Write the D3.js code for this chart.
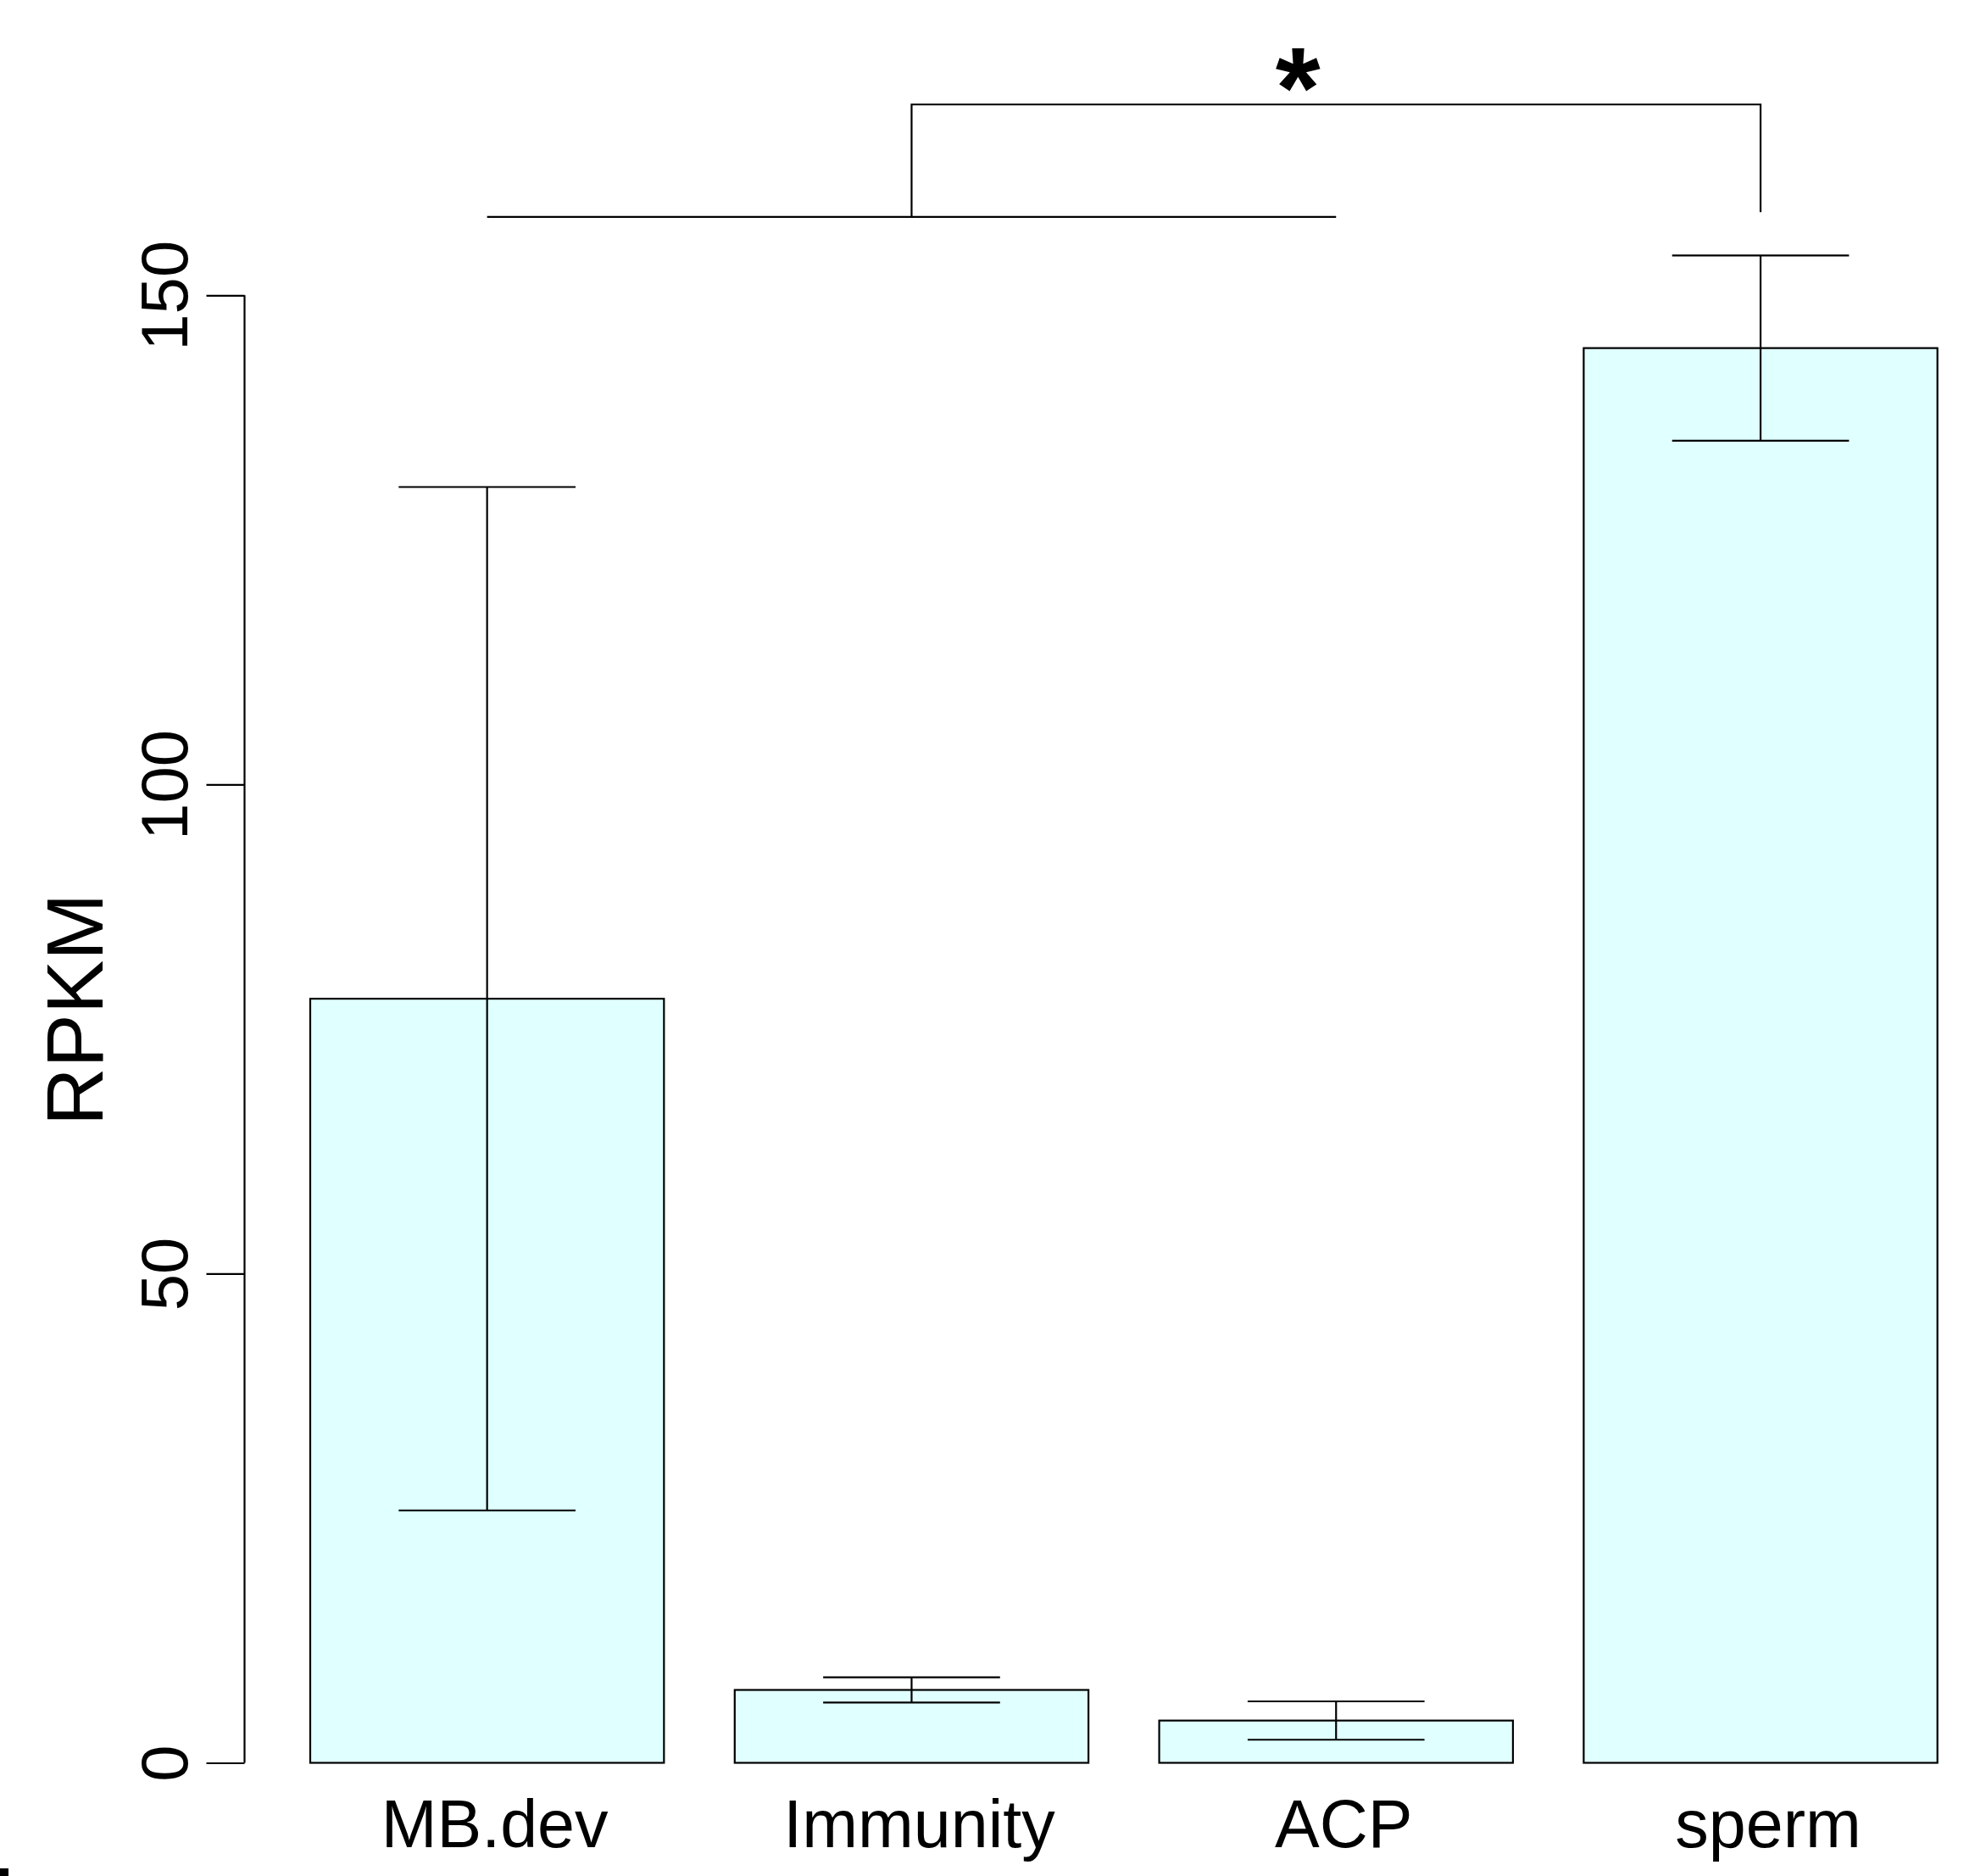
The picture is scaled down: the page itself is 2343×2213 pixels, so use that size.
<!DOCTYPE html>
<html>
<head>
<meta charset="utf-8">
<script src="https://cdn.jsdelivr.net/npm/d3@7"></script>
<style>
  html, body { margin: 0; padding: 0; background: #ffffff; }
  svg { display: block; }
  text { font-family: "Liberation Sans", Arial, Helvetica, sans-serif; fill: #000; }
</style>
</head>
<body>
<svg id="chart" width="2343" height="2213"></svg>
<script>
// Gene-set expression (mean RPKM with standard error)
const categories = ["MB.dev", "Immunity", "ACP", "sperm"];
const meanRPKM   = [78.1, 7.45, 4.32, 144.6];
const seRPKM     = [52.3, 1.29, 1.96, 9.47];
const yTicks     = [0, 50, 100, 150];
const yLabel     = "RPKM";

// Significance bracket: group (MB.dev..ACP) vs sperm
const groupFrom  = "MB.dev";
const groupTo    = "ACP";
const compareTo  = "sperm";
const bracketLow = 158;     // level of the group bar
const bracketHigh = 169.5;  // level of the connecting bar
const bracketDrop = 158.5;  // where the right leg ends
const sigLabel   = "*";
const sigPos     = 1.91;    // position in bar-index units
const sigLevel   = 166.8;

const svg = d3.select("#chart");

const x = d3.scaleBand()
  .domain(categories)
  .range([366, 2285.7])
  .paddingInner(1 / 6)
  .paddingOuter(0);

const y = d3.scaleLinear()
  .domain([0, 150])
  .range([2079.5, 348.3]);

const cx = c => x(c) + x.bandwidth() / 2;
// index units -> pixel centre
const xi = d3.scaleLinear().domain([0, 1]).range([cx(categories[0]), cx(categories[1])]);

const rows = categories.map((c, i) => ({ c, m: meanRPKM[i], se: seRPKM[i] }));

// Bars
svg.append("g").selectAll("rect")
  .data(rows)
  .join("rect")
  .attr("x", d => x(d.c))
  .attr("y", d => y(d.m))
  .attr("width", x.bandwidth())
  .attr("height", d => y(0) - y(d.m))
  .attr("fill", "#e0ffff")
  .attr("stroke", "#000")
  .attr("stroke-width", 2.2);

// Error bars
const eb = svg.append("g").attr("stroke", "#000").attr("stroke-width", 2.2);
const capHalf = x.bandwidth() / 4;
rows.forEach(d => {
  const c = cx(d.c);
  eb.append("line").attr("x1", c).attr("x2", c)
    .attr("y1", y(d.m + d.se)).attr("y2", y(d.m - d.se));
  [d.m + d.se, d.m - d.se].forEach(v => {
    eb.append("line").attr("x1", c - capHalf).attr("x2", c + capHalf)
      .attr("y1", y(v)).attr("y2", y(v));
  });
});

// Y axis (R style: line spans ticks only, labels rotated)
const axis = svg.append("g")
  .attr("transform", `translate(${288.5},0)`)
  .call(d3.axisLeft(y).tickValues(yTicks).tickSize(45).tickPadding(0).tickSizeOuter(0));
axis.select(".domain").remove();
axis.append("line")
  .attr("x1", 0).attr("x2", 0)
  .attr("y1", y(yTicks[0])).attr("y2", y(yTicks[yTicks.length - 1]))
  .attr("stroke", "#000").attr("stroke-width", 2.2);
axis.selectAll(".tick line").attr("stroke-width", 2.2);
axis.selectAll(".tick text")
  .attr("x", null).attr("dy", null)
  .attr("transform", "translate(-68,0) rotate(-90)")
  .attr("text-anchor", "middle")
  .style("font-size", "78px")
  .style("font-family", "\"Liberation Sans\", Arial, Helvetica, sans-serif");

// Y axis title
svg.append("text")
  .attr("transform", `translate(121,${y(77)}) rotate(-90)`)
  .attr("text-anchor", "middle")
  .style("font-size", "95px")
  .text(yLabel);

// Category labels
svg.append("g").selectAll("text")
  .data(categories)
  .join("text")
  .attr("x", d => cx(d))
  .attr("dx", 9)
  .attr("y", 2179)
  .attr("text-anchor", "middle")
  .style("font-size", "79px")
  .text(d => d);

// Significance bracket
const gL = cx(groupFrom), gR = cx(groupTo), gM = (gL + gR) / 2, sC = cx(compareTo);
const br = svg.append("g").attr("stroke", "#000").attr("stroke-width", 2.2).attr("fill", "none");
br.append("line").attr("x1", gL).attr("x2", gR).attr("y1", y(bracketLow)).attr("y2", y(bracketLow));
br.append("path").attr("d", d3.line()([
  [gM, y(bracketLow)], [gM, y(bracketHigh)], [sC, y(bracketHigh)], [sC, y(bracketDrop)]
]));
svg.append("text")
  .attr("x", xi(sigPos))
  .attr("y", y(sigLevel))
  .attr("dy", -4)
  .attr("text-anchor", "middle")
  .style("font-size", "136px")
  .style("font-weight", "bold")
  .text(sigLabel);

// Corner mark at the lower-left edge
svg.append("rect").attr("x", 0).attr("y", 2204).attr("width", 10).attr("height", 9).attr("fill", "#000");
</script>
</body>
</html>
